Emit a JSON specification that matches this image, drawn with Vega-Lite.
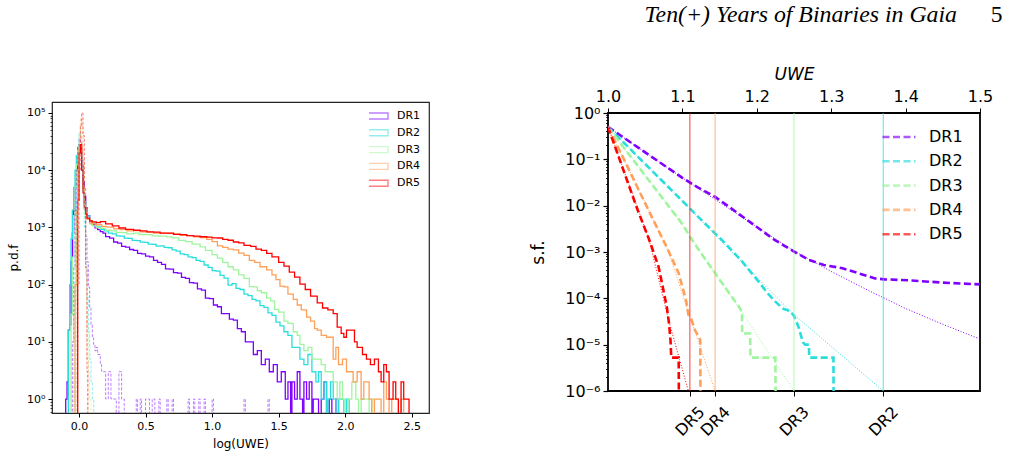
{
  "$schema": "https://vega.github.io/schema/vega-lite/v6.json",
  "background": "white",
  "padding": {"left": 6, "top": 1, "right": 5, "bottom": 5},
  "title": {
    "text": "5",
    "anchor": "end",
    "dx": 9,
    "dy": 24.5,
    "offset": 0,
    "font": "Liberation Serif",
    "fontStyle": "normal",
    "fontWeight": "normal",
    "fontSize": 23.5,
    "color": "black"
  },
  "config": {
    "font": "DejaVu Sans",
    "axis": {
      "grid": false,
      "domain": false,
      "labelFlush": false,
      "tickColor": "black",
      "labelColor": "black",
      "titleColor": "black",
      "titleFontWeight": "normal",
      "labelFont": "DejaVu Sans",
      "titleFont": "DejaVu Sans"
    },
    "legend": {"labelFont": "DejaVu Sans", "labelColor": "black"}
  },
  "spacing": 98,
  "resolve": {"scale": {"color": "independent"}, "legend": {"color": "independent"}},
  "datasets": {
    "pdf_obs": [
      {"release":"DR1","log_uwe":-0.11,"pdf":0.1},{"release":"DR1","log_uwe":-0.1,"pdf":1},{"release":"DR1","log_uwe":-0.09,"pdf":2},{"release":"DR1","log_uwe":-0.08,"pdf":16},{"release":"DR1","log_uwe":-0.07,"pdf":20},{"release":"DR1","log_uwe":-0.06,"pdf":250},{"release":"DR1","log_uwe":-0.05,"pdf":800},{"release":"DR1","log_uwe":-0.04,"pdf":2000},{"release":"DR1","log_uwe":-0.03,"pdf":5000},{"release":"DR1","log_uwe":-0.02,"pdf":10000},{"release":"DR1","log_uwe":-0.01,"pdf":18000},{"release":"DR1","log_uwe":0,"pdf":25000},{"release":"DR1","log_uwe":0.01,"pdf":22000},{"release":"DR1","log_uwe":0.02,"pdf":12000},{"release":"DR1","log_uwe":0.03,"pdf":6300},{"release":"DR1","log_uwe":0.04,"pdf":3500},{"release":"DR1","log_uwe":0.05,"pdf":2200},{"release":"DR1","log_uwe":0.06,"pdf":1600},{"release":"DR1","log_uwe":0.08,"pdf":1250},{"release":"DR1","log_uwe":0.1,"pdf":1120},{"release":"DR1","log_uwe":0.12,"pdf":980},{"release":"DR1","log_uwe":0.14,"pdf":910},{"release":"DR1","log_uwe":0.16,"pdf":840},{"release":"DR1","log_uwe":0.18,"pdf":790},{"release":"DR1","log_uwe":0.2,"pdf":690},{"release":"DR1","log_uwe":0.23,"pdf":650},{"release":"DR1","log_uwe":0.26,"pdf":555},{"release":"DR1","log_uwe":0.29,"pdf":530},{"release":"DR1","log_uwe":0.32,"pdf":465},{"release":"DR1","log_uwe":0.35,"pdf":450},{"release":"DR1","log_uwe":0.38,"pdf":410},{"release":"DR1","log_uwe":0.41,"pdf":395},{"release":"DR1","log_uwe":0.44,"pdf":350},{"release":"DR1","log_uwe":0.47,"pdf":345},{"release":"DR1","log_uwe":0.5,"pdf":315},{"release":"DR1","log_uwe":0.53,"pdf":305},{"release":"DR1","log_uwe":0.56,"pdf":265},{"release":"DR1","log_uwe":0.59,"pdf":245},{"release":"DR1","log_uwe":0.62,"pdf":225},{"release":"DR1","log_uwe":0.65,"pdf":188},{"release":"DR1","log_uwe":0.68,"pdf":186},{"release":"DR1","log_uwe":0.71,"pdf":162},{"release":"DR1","log_uwe":0.74,"pdf":158},{"release":"DR1","log_uwe":0.77,"pdf":134},{"release":"DR1","log_uwe":0.8,"pdf":128},{"release":"DR1","log_uwe":0.83,"pdf":108},{"release":"DR1","log_uwe":0.86,"pdf":106},{"release":"DR1","log_uwe":0.89,"pdf":84},{"release":"DR1","log_uwe":0.92,"pdf":80},{"release":"DR1","log_uwe":0.95,"pdf":58},{"release":"DR1","log_uwe":0.98,"pdf":57},{"release":"DR1","log_uwe":1.01,"pdf":44},{"release":"DR1","log_uwe":1.04,"pdf":41},{"release":"DR1","log_uwe":1.07,"pdf":31},{"release":"DR1","log_uwe":1.1,"pdf":31},{"release":"DR1","log_uwe":1.13,"pdf":25},{"release":"DR1","log_uwe":1.16,"pdf":24},{"release":"DR1","log_uwe":1.19,"pdf":17},{"release":"DR1","log_uwe":1.22,"pdf":15},{"release":"DR1","log_uwe":1.25,"pdf":10},{"release":"DR1","log_uwe":1.28,"pdf":10},{"release":"DR1","log_uwe":1.31,"pdf":6},{"release":"DR1","log_uwe":1.34,"pdf":7},{"release":"DR1","log_uwe":1.37,"pdf":4},{"release":"DR1","log_uwe":1.4,"pdf":5},{"release":"DR1","log_uwe":1.43,"pdf":3},{"release":"DR1","log_uwe":1.46,"pdf":4},{"release":"DR1","log_uwe":1.49,"pdf":2},{"release":"DR1","log_uwe":1.52,"pdf":3},{"release":"DR1","log_uwe":1.55,"pdf":1},{"release":"DR1","log_uwe":1.57,"pdf":2},{"release":"DR1","log_uwe":1.59,"pdf":0.1},{"release":"DR1","log_uwe":1.6,"pdf":2},{"release":"DR1","log_uwe":1.62,"pdf":1},{"release":"DR1","log_uwe":1.64,"pdf":3},{"release":"DR1","log_uwe":1.66,"pdf":1},{"release":"DR1","log_uwe":1.68,"pdf":0.1},{"release":"DR1","log_uwe":1.69,"pdf":2},{"release":"DR1","log_uwe":1.71,"pdf":1},{"release":"DR1","log_uwe":1.73,"pdf":2},{"release":"DR1","log_uwe":1.75,"pdf":0.1},{"release":"DR1","log_uwe":1.76,"pdf":1},{"release":"DR1","log_uwe":1.78,"pdf":1},{"release":"DR1","log_uwe":1.8,"pdf":0.1},{"release":"DR1","log_uwe":1.82,"pdf":1},{"release":"DR1","log_uwe":1.84,"pdf":2},{"release":"DR1","log_uwe":1.86,"pdf":0.1},{"release":"DR1","log_uwe":1.88,"pdf":1},{"release":"DR1","log_uwe":1.9,"pdf":0.1},{"release":"DR1","log_uwe":1.93,"pdf":1},{"release":"DR1","log_uwe":1.95,"pdf":0.1},
      {"release":"DR2","log_uwe":-0.09,"pdf":0.1},{"release":"DR2","log_uwe":-0.08,"pdf":16},{"release":"DR2","log_uwe":-0.07,"pdf":100},{"release":"DR2","log_uwe":-0.06,"pdf":630},{"release":"DR2","log_uwe":-0.05,"pdf":2000},{"release":"DR2","log_uwe":-0.04,"pdf":5000},{"release":"DR2","log_uwe":-0.03,"pdf":10000},{"release":"DR2","log_uwe":-0.02,"pdf":18000},{"release":"DR2","log_uwe":-0.01,"pdf":25000},{"release":"DR2","log_uwe":0,"pdf":28000},{"release":"DR2","log_uwe":0.01,"pdf":20000},{"release":"DR2","log_uwe":0.02,"pdf":10000},{"release":"DR2","log_uwe":0.03,"pdf":5000},{"release":"DR2","log_uwe":0.04,"pdf":2800},{"release":"DR2","log_uwe":0.05,"pdf":2000},{"release":"DR2","log_uwe":0.06,"pdf":1580},{"release":"DR2","log_uwe":0.08,"pdf":1300},{"release":"DR2","log_uwe":0.1,"pdf":1180},{"release":"DR2","log_uwe":0.13,"pdf":1020},{"release":"DR2","log_uwe":0.16,"pdf":920},{"release":"DR2","log_uwe":0.19,"pdf":870},{"release":"DR2","log_uwe":0.22,"pdf":790},{"release":"DR2","log_uwe":0.25,"pdf":770},{"release":"DR2","log_uwe":0.28,"pdf":710},{"release":"DR2","log_uwe":0.31,"pdf":700},{"release":"DR2","log_uwe":0.34,"pdf":650},{"release":"DR2","log_uwe":0.37,"pdf":640},{"release":"DR2","log_uwe":0.4,"pdf":590},{"release":"DR2","log_uwe":0.43,"pdf":585},{"release":"DR2","log_uwe":0.46,"pdf":550},{"release":"DR2","log_uwe":0.49,"pdf":545},{"release":"DR2","log_uwe":0.52,"pdf":510},{"release":"DR2","log_uwe":0.55,"pdf":505},{"release":"DR2","log_uwe":0.58,"pdf":470},{"release":"DR2","log_uwe":0.61,"pdf":475},{"release":"DR2","log_uwe":0.64,"pdf":445},{"release":"DR2","log_uwe":0.67,"pdf":440},{"release":"DR2","log_uwe":0.7,"pdf":405},{"release":"DR2","log_uwe":0.73,"pdf":385},{"release":"DR2","log_uwe":0.76,"pdf":345},{"release":"DR2","log_uwe":0.79,"pdf":335},{"release":"DR2","log_uwe":0.82,"pdf":305},{"release":"DR2","log_uwe":0.85,"pdf":295},{"release":"DR2","log_uwe":0.88,"pdf":265},{"release":"DR2","log_uwe":0.91,"pdf":255},{"release":"DR2","log_uwe":0.94,"pdf":220},{"release":"DR2","log_uwe":0.97,"pdf":200},{"release":"DR2","log_uwe":1.0,"pdf":175},{"release":"DR2","log_uwe":1.03,"pdf":172},{"release":"DR2","log_uwe":1.06,"pdf":145},{"release":"DR2","log_uwe":1.09,"pdf":130},{"release":"DR2","log_uwe":1.12,"pdf":98},{"release":"DR2","log_uwe":1.15,"pdf":104},{"release":"DR2","log_uwe":1.18,"pdf":86},{"release":"DR2","log_uwe":1.21,"pdf":82},{"release":"DR2","log_uwe":1.24,"pdf":68},{"release":"DR2","log_uwe":1.27,"pdf":64},{"release":"DR2","log_uwe":1.3,"pdf":55},{"release":"DR2","log_uwe":1.33,"pdf":52},{"release":"DR2","log_uwe":1.36,"pdf":43},{"release":"DR2","log_uwe":1.39,"pdf":40},{"release":"DR2","log_uwe":1.42,"pdf":32},{"release":"DR2","log_uwe":1.45,"pdf":29},{"release":"DR2","log_uwe":1.48,"pdf":22},{"release":"DR2","log_uwe":1.51,"pdf":19},{"release":"DR2","log_uwe":1.54,"pdf":15},{"release":"DR2","log_uwe":1.57,"pdf":13},{"release":"DR2","log_uwe":1.6,"pdf":8},{"release":"DR2","log_uwe":1.63,"pdf":8},{"release":"DR2","log_uwe":1.66,"pdf":5},{"release":"DR2","log_uwe":1.69,"pdf":4},{"release":"DR2","log_uwe":1.72,"pdf":6},{"release":"DR2","log_uwe":1.75,"pdf":3},{"release":"DR2","log_uwe":1.78,"pdf":2},{"release":"DR2","log_uwe":1.8,"pdf":3},{"release":"DR2","log_uwe":1.82,"pdf":1},{"release":"DR2","log_uwe":1.84,"pdf":2},{"release":"DR2","log_uwe":1.86,"pdf":0.1},{"release":"DR2","log_uwe":1.87,"pdf":1},{"release":"DR2","log_uwe":1.89,"pdf":2},{"release":"DR2","log_uwe":1.91,"pdf":1},{"release":"DR2","log_uwe":1.93,"pdf":0.1},{"release":"DR2","log_uwe":1.95,"pdf":1},{"release":"DR2","log_uwe":1.97,"pdf":1},{"release":"DR2","log_uwe":1.99,"pdf":0.1},{"release":"DR2","log_uwe":2.01,"pdf":1},{"release":"DR2","log_uwe":2.03,"pdf":0.1},
      {"release":"DR3","log_uwe":-0.07,"pdf":0.1},{"release":"DR3","log_uwe":-0.06,"pdf":30},{"release":"DR3","log_uwe":-0.05,"pdf":300},{"release":"DR3","log_uwe":-0.04,"pdf":1600},{"release":"DR3","log_uwe":-0.03,"pdf":5000},{"release":"DR3","log_uwe":-0.02,"pdf":12600},{"release":"DR3","log_uwe":-0.01,"pdf":22000},{"release":"DR3","log_uwe":0,"pdf":28000},{"release":"DR3","log_uwe":0.01,"pdf":20000},{"release":"DR3","log_uwe":0.02,"pdf":10000},{"release":"DR3","log_uwe":0.03,"pdf":4500},{"release":"DR3","log_uwe":0.04,"pdf":2500},{"release":"DR3","log_uwe":0.05,"pdf":1780},{"release":"DR3","log_uwe":0.06,"pdf":1400},{"release":"DR3","log_uwe":0.08,"pdf":1150},{"release":"DR3","log_uwe":0.1,"pdf":1060},{"release":"DR3","log_uwe":0.13,"pdf":990},{"release":"DR3","log_uwe":0.16,"pdf":965},{"release":"DR3","log_uwe":0.2,"pdf":890},{"release":"DR3","log_uwe":0.24,"pdf":870},{"release":"DR3","log_uwe":0.28,"pdf":820},{"release":"DR3","log_uwe":0.32,"pdf":810},{"release":"DR3","log_uwe":0.36,"pdf":770},{"release":"DR3","log_uwe":0.41,"pdf":790},{"release":"DR3","log_uwe":0.45,"pdf":750},{"release":"DR3","log_uwe":0.5,"pdf":745},{"release":"DR3","log_uwe":0.55,"pdf":710},{"release":"DR3","log_uwe":0.6,"pdf":705},{"release":"DR3","log_uwe":0.66,"pdf":680},{"release":"DR3","log_uwe":0.7,"pdf":655},{"release":"DR3","log_uwe":0.75,"pdf":590},{"release":"DR3","log_uwe":0.8,"pdf":565},{"release":"DR3","log_uwe":0.85,"pdf":510},{"release":"DR3","log_uwe":0.91,"pdf":455},{"release":"DR3","log_uwe":0.95,"pdf":395},{"release":"DR3","log_uwe":1.0,"pdf":335},{"release":"DR3","log_uwe":1.04,"pdf":290},{"release":"DR3","log_uwe":1.08,"pdf":245},{"release":"DR3","log_uwe":1.12,"pdf":205},{"release":"DR3","log_uwe":1.16,"pdf":180},{"release":"DR3","log_uwe":1.2,"pdf":148},{"release":"DR3","log_uwe":1.24,"pdf":128},{"release":"DR3","log_uwe":1.28,"pdf":92},{"release":"DR3","log_uwe":1.31,"pdf":91},{"release":"DR3","log_uwe":1.34,"pdf":78},{"release":"DR3","log_uwe":1.37,"pdf":72},{"release":"DR3","log_uwe":1.41,"pdf":58},{"release":"DR3","log_uwe":1.44,"pdf":52},{"release":"DR3","log_uwe":1.47,"pdf":37},{"release":"DR3","log_uwe":1.5,"pdf":33},{"release":"DR3","log_uwe":1.54,"pdf":23},{"release":"DR3","log_uwe":1.57,"pdf":21},{"release":"DR3","log_uwe":1.61,"pdf":15},{"release":"DR3","log_uwe":1.64,"pdf":13},{"release":"DR3","log_uwe":1.66,"pdf":9},{"release":"DR3","log_uwe":1.69,"pdf":7},{"release":"DR3","log_uwe":1.72,"pdf":8},{"release":"DR3","log_uwe":1.75,"pdf":5},{"release":"DR3","log_uwe":1.79,"pdf":5},{"release":"DR3","log_uwe":1.82,"pdf":4},{"release":"DR3","log_uwe":1.85,"pdf":3},{"release":"DR3","log_uwe":1.88,"pdf":3},{"release":"DR3","log_uwe":1.91,"pdf":2},{"release":"DR3","log_uwe":1.94,"pdf":1},{"release":"DR3","log_uwe":1.96,"pdf":2},{"release":"DR3","log_uwe":1.98,"pdf":1},{"release":"DR3","log_uwe":2.0,"pdf":0.1},{"release":"DR3","log_uwe":2.02,"pdf":1},{"release":"DR3","log_uwe":2.05,"pdf":2},{"release":"DR3","log_uwe":2.08,"pdf":1},{"release":"DR3","log_uwe":2.1,"pdf":0.1},{"release":"DR3","log_uwe":2.12,"pdf":1},{"release":"DR3","log_uwe":2.15,"pdf":1},{"release":"DR3","log_uwe":2.18,"pdf":0.1},{"release":"DR3","log_uwe":2.2,"pdf":1},{"release":"DR3","log_uwe":2.22,"pdf":0.1},
      {"release":"DR4","log_uwe":-0.04,"pdf":0.1},{"release":"DR4","log_uwe":-0.03,"pdf":100},{"release":"DR4","log_uwe":-0.02,"pdf":2000},{"release":"DR4","log_uwe":-0.01,"pdf":10000},{"release":"DR4","log_uwe":0,"pdf":25000},{"release":"DR4","log_uwe":0.01,"pdf":26000},{"release":"DR4","log_uwe":0.02,"pdf":12000},{"release":"DR4","log_uwe":0.03,"pdf":5000},{"release":"DR4","log_uwe":0.04,"pdf":2500},{"release":"DR4","log_uwe":0.05,"pdf":1800},{"release":"DR4","log_uwe":0.06,"pdf":1400},{"release":"DR4","log_uwe":0.08,"pdf":1200},{"release":"DR4","log_uwe":0.1,"pdf":1150},{"release":"DR4","log_uwe":0.13,"pdf":1110},{"release":"DR4","log_uwe":0.17,"pdf":1040},{"release":"DR4","log_uwe":0.21,"pdf":1010},{"release":"DR4","log_uwe":0.26,"pdf":940},{"release":"DR4","log_uwe":0.31,"pdf":910},{"release":"DR4","log_uwe":0.36,"pdf":870},{"release":"DR4","log_uwe":0.41,"pdf":875},{"release":"DR4","log_uwe":0.46,"pdf":835},{"release":"DR4","log_uwe":0.51,"pdf":825},{"release":"DR4","log_uwe":0.56,"pdf":795},{"release":"DR4","log_uwe":0.61,"pdf":795},{"release":"DR4","log_uwe":0.66,"pdf":785},{"release":"DR4","log_uwe":0.71,"pdf":765},{"release":"DR4","log_uwe":0.76,"pdf":725},{"release":"DR4","log_uwe":0.81,"pdf":715},{"release":"DR4","log_uwe":0.86,"pdf":685},{"release":"DR4","log_uwe":0.91,"pdf":665},{"release":"DR4","log_uwe":0.96,"pdf":615},{"release":"DR4","log_uwe":1.0,"pdf":565},{"release":"DR4","log_uwe":1.04,"pdf":475},{"release":"DR4","log_uwe":1.08,"pdf":445},{"release":"DR4","log_uwe":1.12,"pdf":415},{"release":"DR4","log_uwe":1.16,"pdf":405},{"release":"DR4","log_uwe":1.2,"pdf":355},{"release":"DR4","log_uwe":1.24,"pdf":325},{"release":"DR4","log_uwe":1.28,"pdf":265},{"release":"DR4","log_uwe":1.32,"pdf":245},{"release":"DR4","log_uwe":1.36,"pdf":205},{"release":"DR4","log_uwe":1.41,"pdf":180},{"release":"DR4","log_uwe":1.45,"pdf":148},{"release":"DR4","log_uwe":1.48,"pdf":122},{"release":"DR4","log_uwe":1.51,"pdf":94},{"release":"DR4","log_uwe":1.54,"pdf":91},{"release":"DR4","log_uwe":1.57,"pdf":68},{"release":"DR4","log_uwe":1.61,"pdf":55},{"release":"DR4","log_uwe":1.64,"pdf":44},{"release":"DR4","log_uwe":1.67,"pdf":36},{"release":"DR4","log_uwe":1.71,"pdf":27},{"release":"DR4","log_uwe":1.74,"pdf":23},{"release":"DR4","log_uwe":1.77,"pdf":17},{"release":"DR4","log_uwe":1.79,"pdf":16},{"release":"DR4","log_uwe":1.82,"pdf":13},{"release":"DR4","log_uwe":1.86,"pdf":12},{"release":"DR4","log_uwe":1.89,"pdf":12},{"release":"DR4","log_uwe":1.91,"pdf":5},{"release":"DR4","log_uwe":1.93,"pdf":8},{"release":"DR4","log_uwe":1.95,"pdf":4},{"release":"DR4","log_uwe":1.98,"pdf":5},{"release":"DR4","log_uwe":2.01,"pdf":3},{"release":"DR4","log_uwe":2.04,"pdf":3},{"release":"DR4","log_uwe":2.06,"pdf":2},{"release":"DR4","log_uwe":2.09,"pdf":3},{"release":"DR4","log_uwe":2.12,"pdf":1},{"release":"DR4","log_uwe":2.14,"pdf":2},{"release":"DR4","log_uwe":2.16,"pdf":2},{"release":"DR4","log_uwe":2.18,"pdf":1},{"release":"DR4","log_uwe":2.2,"pdf":0.1},{"release":"DR4","log_uwe":2.22,"pdf":1},{"release":"DR4","log_uwe":2.25,"pdf":1},{"release":"DR4","log_uwe":2.27,"pdf":0.1},{"release":"DR4","log_uwe":2.29,"pdf":2},{"release":"DR4","log_uwe":2.31,"pdf":1},{"release":"DR4","log_uwe":2.33,"pdf":0.1},{"release":"DR4","log_uwe":2.35,"pdf":1},{"release":"DR4","log_uwe":2.38,"pdf":1},{"release":"DR4","log_uwe":2.4,"pdf":0.1},{"release":"DR4","log_uwe":2.42,"pdf":1},{"release":"DR4","log_uwe":2.44,"pdf":0.1},
      {"release":"DR5","log_uwe":-0.02,"pdf":0.1},{"release":"DR5","log_uwe":-0.01,"pdf":3000},{"release":"DR5","log_uwe":0,"pdf":20000},{"release":"DR5","log_uwe":0.01,"pdf":28000},{"release":"DR5","log_uwe":0.02,"pdf":10000},{"release":"DR5","log_uwe":0.03,"pdf":4000},{"release":"DR5","log_uwe":0.04,"pdf":2200},{"release":"DR5","log_uwe":0.05,"pdf":1700},{"release":"DR5","log_uwe":0.06,"pdf":1450},{"release":"DR5","log_uwe":0.08,"pdf":1300},{"release":"DR5","log_uwe":0.1,"pdf":1250},{"release":"DR5","log_uwe":0.13,"pdf":1210},{"release":"DR5","log_uwe":0.16,"pdf":1260},{"release":"DR5","log_uwe":0.2,"pdf":1150},{"release":"DR5","log_uwe":0.25,"pdf":1060},{"release":"DR5","log_uwe":0.3,"pdf":975},{"release":"DR5","log_uwe":0.35,"pdf":925},{"release":"DR5","log_uwe":0.41,"pdf":890},{"release":"DR5","log_uwe":0.46,"pdf":865},{"release":"DR5","log_uwe":0.51,"pdf":835},{"release":"DR5","log_uwe":0.56,"pdf":825},{"release":"DR5","log_uwe":0.61,"pdf":795},{"release":"DR5","log_uwe":0.66,"pdf":795},{"release":"DR5","log_uwe":0.71,"pdf":755},{"release":"DR5","log_uwe":0.76,"pdf":745},{"release":"DR5","log_uwe":0.81,"pdf":715},{"release":"DR5","log_uwe":0.86,"pdf":705},{"release":"DR5","log_uwe":0.91,"pdf":685},{"release":"DR5","log_uwe":0.96,"pdf":675},{"release":"DR5","log_uwe":1.0,"pdf":655},{"release":"DR5","log_uwe":1.04,"pdf":652},{"release":"DR5","log_uwe":1.08,"pdf":615},{"release":"DR5","log_uwe":1.12,"pdf":595},{"release":"DR5","log_uwe":1.16,"pdf":555},{"release":"DR5","log_uwe":1.2,"pdf":535},{"release":"DR5","log_uwe":1.24,"pdf":485},{"release":"DR5","log_uwe":1.29,"pdf":465},{"release":"DR5","log_uwe":1.33,"pdf":415},{"release":"DR5","log_uwe":1.37,"pdf":395},{"release":"DR5","log_uwe":1.41,"pdf":350},{"release":"DR5","log_uwe":1.45,"pdf":305},{"release":"DR5","log_uwe":1.5,"pdf":245},{"release":"DR5","log_uwe":1.54,"pdf":210},{"release":"DR5","log_uwe":1.58,"pdf":165},{"release":"DR5","log_uwe":1.62,"pdf":135},{"release":"DR5","log_uwe":1.66,"pdf":102},{"release":"DR5","log_uwe":1.7,"pdf":82},{"release":"DR5","log_uwe":1.74,"pdf":63},{"release":"DR5","log_uwe":1.79,"pdf":48},{"release":"DR5","log_uwe":1.83,"pdf":39},{"release":"DR5","log_uwe":1.87,"pdf":36},{"release":"DR5","log_uwe":1.91,"pdf":31},{"release":"DR5","log_uwe":1.94,"pdf":18},{"release":"DR5","log_uwe":1.97,"pdf":14},{"release":"DR5","log_uwe":1.99,"pdf":12},{"release":"DR5","log_uwe":2.01,"pdf":16},{"release":"DR5","log_uwe":2.04,"pdf":16},{"release":"DR5","log_uwe":2.07,"pdf":10},{"release":"DR5","log_uwe":2.09,"pdf":8},{"release":"DR5","log_uwe":2.11,"pdf":8},{"release":"DR5","log_uwe":2.13,"pdf":6},{"release":"DR5","log_uwe":2.16,"pdf":5},{"release":"DR5","log_uwe":2.19,"pdf":4},{"release":"DR5","log_uwe":2.22,"pdf":5},{"release":"DR5","log_uwe":2.25,"pdf":3},{"release":"DR5","log_uwe":2.27,"pdf":2},{"release":"DR5","log_uwe":2.29,"pdf":4},{"release":"DR5","log_uwe":2.31,"pdf":3},{"release":"DR5","log_uwe":2.33,"pdf":1},{"release":"DR5","log_uwe":2.36,"pdf":2},{"release":"DR5","log_uwe":2.38,"pdf":1},{"release":"DR5","log_uwe":2.4,"pdf":0.1},{"release":"DR5","log_uwe":2.42,"pdf":2},{"release":"DR5","log_uwe":2.44,"pdf":1},{"release":"DR5","log_uwe":2.46,"pdf":1},{"release":"DR5","log_uwe":2.48,"pdf":0.1}
    ],
    "pdf_exp": [
      {"release":"DR1","log_uwe":-0.06,"pdf":0.1},{"release":"DR1","log_uwe":-0.05,"pdf":10},{"release":"DR1","log_uwe":-0.04,"pdf":200},{"release":"DR1","log_uwe":-0.03,"pdf":2000},{"release":"DR1","log_uwe":-0.02,"pdf":10000},{"release":"DR1","log_uwe":-0.01,"pdf":25000},{"release":"DR1","log_uwe":0,"pdf":35000},{"release":"DR1","log_uwe":0.01,"pdf":30000},{"release":"DR1","log_uwe":0.02,"pdf":15000},{"release":"DR1","log_uwe":0.03,"pdf":6000},{"release":"DR1","log_uwe":0.04,"pdf":2000},{"release":"DR1","log_uwe":0.05,"pdf":700},{"release":"DR1","log_uwe":0.06,"pdf":250},{"release":"DR1","log_uwe":0.07,"pdf":90},{"release":"DR1","log_uwe":0.08,"pdf":40},{"release":"DR1","log_uwe":0.09,"pdf":20},{"release":"DR1","log_uwe":0.1,"pdf":12},{"release":"DR1","log_uwe":0.11,"pdf":9},{"release":"DR1","log_uwe":0.12,"pdf":7},{"release":"DR1","log_uwe":0.13,"pdf":8},{"release":"DR1","log_uwe":0.14,"pdf":6},{"release":"DR1","log_uwe":0.15,"pdf":6},{"release":"DR1","log_uwe":0.16,"pdf":4},{"release":"DR1","log_uwe":0.17,"pdf":3},{"release":"DR1","log_uwe":0.18,"pdf":3},{"release":"DR1","log_uwe":0.2,"pdf":1},{"release":"DR1","log_uwe":0.22,"pdf":3},{"release":"DR1","log_uwe":0.24,"pdf":1},{"release":"DR1","log_uwe":0.26,"pdf":1},{"release":"DR1","log_uwe":0.28,"pdf":0.1},{"release":"DR1","log_uwe":0.3,"pdf":3},{"release":"DR1","log_uwe":0.32,"pdf":1},{"release":"DR1","log_uwe":0.34,"pdf":0.1},{"release":"DR1","log_uwe":0.43,"pdf":1},{"release":"DR1","log_uwe":0.44,"pdf":0.1},{"release":"DR1","log_uwe":0.46,"pdf":1},{"release":"DR1","log_uwe":0.47,"pdf":0.1},{"release":"DR1","log_uwe":0.5,"pdf":1},{"release":"DR1","log_uwe":0.52,"pdf":1},{"release":"DR1","log_uwe":0.53,"pdf":0.1},{"release":"DR1","log_uwe":0.55,"pdf":1},{"release":"DR1","log_uwe":0.57,"pdf":0.1},{"release":"DR1","log_uwe":0.6,"pdf":1},{"release":"DR1","log_uwe":0.61,"pdf":0.1},{"release":"DR1","log_uwe":0.66,"pdf":1},{"release":"DR1","log_uwe":0.67,"pdf":0.1},{"release":"DR1","log_uwe":0.7,"pdf":1},{"release":"DR1","log_uwe":0.71,"pdf":0.1},{"release":"DR1","log_uwe":0.82,"pdf":1},{"release":"DR1","log_uwe":0.83,"pdf":0.1},{"release":"DR1","log_uwe":0.86,"pdf":1},{"release":"DR1","log_uwe":0.87,"pdf":0.1},{"release":"DR1","log_uwe":0.9,"pdf":1},{"release":"DR1","log_uwe":0.91,"pdf":0.1},{"release":"DR1","log_uwe":0.94,"pdf":1},{"release":"DR1","log_uwe":0.95,"pdf":0.1},{"release":"DR1","log_uwe":1.0,"pdf":1},{"release":"DR1","log_uwe":1.01,"pdf":0.1},{"release":"DR1","log_uwe":1.24,"pdf":1},{"release":"DR1","log_uwe":1.25,"pdf":0.1},{"release":"DR1","log_uwe":1.42,"pdf":1},{"release":"DR1","log_uwe":1.43,"pdf":0.1},
      {"release":"DR2","log_uwe":-0.05,"pdf":0.1},{"release":"DR2","log_uwe":-0.04,"pdf":30},{"release":"DR2","log_uwe":-0.03,"pdf":500},{"release":"DR2","log_uwe":-0.02,"pdf":5000},{"release":"DR2","log_uwe":-0.01,"pdf":20000},{"release":"DR2","log_uwe":0,"pdf":45000},{"release":"DR2","log_uwe":0.01,"pdf":40000},{"release":"DR2","log_uwe":0.02,"pdf":15000},{"release":"DR2","log_uwe":0.03,"pdf":4000},{"release":"DR2","log_uwe":0.04,"pdf":1000},{"release":"DR2","log_uwe":0.05,"pdf":250},{"release":"DR2","log_uwe":0.06,"pdf":60},{"release":"DR2","log_uwe":0.07,"pdf":15},{"release":"DR2","log_uwe":0.08,"pdf":5},{"release":"DR2","log_uwe":0.09,"pdf":2},{"release":"DR2","log_uwe":0.1,"pdf":1},{"release":"DR2","log_uwe":0.11,"pdf":0.1},
      {"release":"DR3","log_uwe":-0.04,"pdf":0.1},{"release":"DR3","log_uwe":-0.03,"pdf":50},{"release":"DR3","log_uwe":-0.02,"pdf":1000},{"release":"DR3","log_uwe":-0.01,"pdf":10000},{"release":"DR3","log_uwe":0,"pdf":40000},{"release":"DR3","log_uwe":0.01,"pdf":60000},{"release":"DR3","log_uwe":0.02,"pdf":30000},{"release":"DR3","log_uwe":0.03,"pdf":8000},{"release":"DR3","log_uwe":0.04,"pdf":1500},{"release":"DR3","log_uwe":0.05,"pdf":200},{"release":"DR3","log_uwe":0.06,"pdf":20},{"release":"DR3","log_uwe":0.07,"pdf":3},{"release":"DR3","log_uwe":0.08,"pdf":1},{"release":"DR3","log_uwe":0.09,"pdf":0.1},
      {"release":"DR4","log_uwe":-0.03,"pdf":0.1},{"release":"DR4","log_uwe":-0.02,"pdf":100},{"release":"DR4","log_uwe":-0.01,"pdf":3000},{"release":"DR4","log_uwe":0,"pdf":30000},{"release":"DR4","log_uwe":0.01,"pdf":80000},{"release":"DR4","log_uwe":0.02,"pdf":60000},{"release":"DR4","log_uwe":0.03,"pdf":15000},{"release":"DR4","log_uwe":0.04,"pdf":2000},{"release":"DR4","log_uwe":0.05,"pdf":150},{"release":"DR4","log_uwe":0.06,"pdf":5},{"release":"DR4","log_uwe":0.07,"pdf":0.1},
      {"release":"DR5","log_uwe":-0.02,"pdf":0.1},{"release":"DR5","log_uwe":-0.01,"pdf":100},{"release":"DR5","log_uwe":0,"pdf":10000},{"release":"DR5","log_uwe":0.01,"pdf":60000},{"release":"DR5","log_uwe":0.02,"pdf":100000},{"release":"DR5","log_uwe":0.03,"pdf":40000},{"release":"DR5","log_uwe":0.04,"pdf":5000},{"release":"DR5","log_uwe":0.05,"pdf":200},{"release":"DR5","log_uwe":0.06,"pdf":3},{"release":"DR5","log_uwe":0.065,"pdf":0.1}
    ],
    "sf_obs": [
      {"release":"DR1","uwe":1.0,"sf":0.501},{"release":"DR1","uwe":1.02,"sf":0.302},{"release":"DR1","uwe":1.05,"sf":0.141},{"release":"DR1","uwe":1.08,"sf":0.0661},{"release":"DR1","uwe":1.1,"sf":0.0398},{"release":"DR1","uwe":1.12,"sf":0.0251},{"release":"DR1","uwe":1.144,"sf":0.0155},{"release":"DR1","uwe":1.17,"sf":0.00776},{"release":"DR1","uwe":1.2,"sf":0.00347},{"release":"DR1","uwe":1.224,"sf":0.00182},{"release":"DR1","uwe":1.251,"sf":0.001},{"release":"DR1","uwe":1.27,"sf":0.000676},{"release":"DR1","uwe":1.29,"sf":0.000525},{"release":"DR1","uwe":1.315,"sf":0.000447},{"release":"DR1","uwe":1.335,"sf":0.000355},{"release":"DR1","uwe":1.359,"sf":0.000269},{"release":"DR1","uwe":1.372,"sf":0.000257},{"release":"DR1","uwe":1.404,"sf":0.000245},{"release":"DR1","uwe":1.449,"sf":0.000219},{"release":"DR1","uwe":1.5,"sf":0.0002},
      {"release":"DR2","uwe":1.0,"sf":0.501},{"release":"DR2","uwe":1.02,"sf":0.24},{"release":"DR2","uwe":1.05,"sf":0.0794},{"release":"DR2","uwe":1.08,"sf":0.0263},{"release":"DR2","uwe":1.1,"sf":0.0126},{"release":"DR2","uwe":1.125,"sf":0.00501},{"release":"DR2","uwe":1.153,"sf":0.00182},{"release":"DR2","uwe":1.18,"sf":0.000631},{"release":"DR2","uwe":1.2025,"sf":0.000229},{"release":"DR2","uwe":1.215,"sf":0.000126},{"release":"DR2","uwe":1.225,"sf":0.0000851},{"release":"DR2","uwe":1.235,"sf":0.0000603},{"release":"DR2","uwe":1.245,"sf":0.0000525},{"release":"DR2","uwe":1.25,"sf":0.0000417},{"release":"DR2","uwe":1.256,"sf":0.0000245},{"release":"DR2","uwe":1.262,"sf":0.0000112},{"release":"DR2","uwe":1.265,"sf":0.00001},{"release":"DR2","uwe":1.27,"sf":0.00001},{"release":"DR2","uwe":1.2705,"sf":0.00000525},{"release":"DR2","uwe":1.303,"sf":0.00000525},{"release":"DR2","uwe":1.3035,"sf":0.0000001},
      {"release":"DR3","uwe":1.0,"sf":0.501},{"release":"DR3","uwe":1.02,"sf":0.19},{"release":"DR3","uwe":1.05,"sf":0.0447},{"release":"DR3","uwe":1.08,"sf":0.0105},{"release":"DR3","uwe":1.1,"sf":0.00398},{"release":"DR3","uwe":1.113,"sf":0.00182},{"release":"DR3","uwe":1.13,"sf":0.000724},{"release":"DR3","uwe":1.144,"sf":0.000347},{"release":"DR3","uwe":1.16,"sf":0.000151},{"release":"DR3","uwe":1.176,"sf":0.0000661},{"release":"DR3","uwe":1.18,"sf":0.0000513},{"release":"DR3","uwe":1.1805,"sf":0.0000174},{"release":"DR3","uwe":1.191,"sf":0.0000174},{"release":"DR3","uwe":1.1915,"sf":0.00000525},{"release":"DR3","uwe":1.225,"sf":0.00000525},{"release":"DR3","uwe":1.2255,"sf":0.0000001},
      {"release":"DR4","uwe":1.0,"sf":0.501},{"release":"DR4","uwe":1.02,"sf":0.112},{"release":"DR4","uwe":1.04,"sf":0.024},{"release":"DR4","uwe":1.06,"sf":0.00525},{"release":"DR4","uwe":1.08,"sf":0.00117},{"release":"DR4","uwe":1.095,"sf":0.000347},{"release":"DR4","uwe":1.105,"sf":0.0000891},{"release":"DR4","uwe":1.108,"sf":0.0000447},{"release":"DR4","uwe":1.112,"sf":0.0000355},{"release":"DR4","uwe":1.117,"sf":0.0000204},{"release":"DR4","uwe":1.121,"sf":0.0000158},{"release":"DR4","uwe":1.124,"sf":0.0000126},{"release":"DR4","uwe":1.1245,"sf":0.0000001},
      {"release":"DR5","uwe":1.0,"sf":0.501},{"release":"DR5","uwe":1.02,"sf":0.0631},{"release":"DR5","uwe":1.04,"sf":0.00794},{"release":"DR5","uwe":1.055,"sf":0.00191},{"release":"DR5","uwe":1.068,"sf":0.000479},{"release":"DR5","uwe":1.079,"sf":0.0000661},{"release":"DR5","uwe":1.082,"sf":0.0000288},{"release":"DR5","uwe":1.084,"sf":0.0000126},{"release":"DR5","uwe":1.085,"sf":0.00000525},{"release":"DR5","uwe":1.095,"sf":0.00000525},{"release":"DR5","uwe":1.0955,"sf":0.0000001}
    ],
    "sf_fit": [
      {"release":"DR1","uwe":1.0,"sf":0.501},{"release":"DR1","uwe":1.1,"sf":0.0398},{"release":"DR1","uwe":1.2,"sf":0.00347},{"release":"DR1","uwe":1.25,"sf":0.00105},{"release":"DR1","uwe":1.3,"sf":0.00038},{"release":"DR1","uwe":1.35,"sf":0.000148},{"release":"DR1","uwe":1.4,"sf":0.0000603},{"release":"DR1","uwe":1.45,"sf":0.0000275},{"release":"DR1","uwe":1.5,"sf":0.0000132},
      {"release":"DR2","uwe":1.0,"sf":0.501},{"release":"DR2","uwe":1.1,"sf":0.0126},{"release":"DR2","uwe":1.2,"sf":0.000282},{"release":"DR2","uwe":1.25,"sf":0.0000447},{"release":"DR2","uwe":1.3,"sf":0.00000912},{"release":"DR2","uwe":1.37,"sf":0.000001},{"release":"DR2","uwe":1.4,"sf":0.000000398},
      {"release":"DR3","uwe":1.0,"sf":0.501},{"release":"DR3","uwe":1.1,"sf":0.00398},{"release":"DR3","uwe":1.144,"sf":0.000347},{"release":"DR3","uwe":1.18,"sf":0.0000501},{"release":"DR3","uwe":1.25,"sf":0.000001},{"release":"DR3","uwe":1.27,"sf":0.00000032},
      {"release":"DR4","uwe":1.0,"sf":0.501},{"release":"DR4","uwe":1.08,"sf":0.00117},{"release":"DR4","uwe":1.108,"sf":0.00005},{"release":"DR4","uwe":1.144,"sf":0.000001},{"release":"DR4","uwe":1.16,"sf":0.0000002},
      {"release":"DR5","uwe":1.0,"sf":0.501},{"release":"DR5","uwe":1.055,"sf":0.00191},{"release":"DR5","uwe":1.082,"sf":0.0000316},{"release":"DR5","uwe":1.108,"sf":0.000001},{"release":"DR5","uwe":1.12,"sf":0.00000016}
    ],
    "cuts": [
      {"release":"DR5","uwe":1.11},{"release":"DR4","uwe":1.144},{"release":"DR3","uwe":1.25},{"release":"DR2","uwe":1.37}
    ]
  },
  "hconcat": [
    {
      "width": 377,
      "height": 311,
      "view": {"stroke": "#222222", "strokeWidth": 1.2},
      "layer": [
        {
          "data": {"name": "pdf_obs"},
          "mark": {"type": "line", "interpolate": "step-after", "strokeWidth": 1.3, "clip": true},
          "encoding": {
            "x": {
              "field": "log_uwe", "type": "quantitative",
              "scale": {"domain": [-0.203, 2.63], "nice": false, "zero": false},
              "axis": {"title": "log(UWE)", "values": [0, 0.5, 1, 1.5, 2, 2.5], "format": ".1f", "labelFontSize": 11, "titleFontSize": 12, "tickSize": 4, "labelPadding": 3, "titlePadding": 7}
            },
            "y": {
              "field": "pdf", "type": "quantitative",
              "scale": {"type": "log", "domain": [0.57, 155000], "nice": false},
              "axis": {
                "title": "p.d.f",
                "titleFontSize": 12,
                "titlePadding": 6,
                "labelFontSize": 11,
                "labelPadding": 3,
                "values": [0.6, 0.7, 0.8, 0.9, 1, 2, 3, 4, 5, 6, 7, 8, 9, 10, 20, 30, 40, 50, 60, 70, 80, 90, 100, 200, 300, 400, 500, 600, 700, 800, 900, 1000, 2000, 3000, 4000, 5000, 6000, 7000, 8000, 9000, 10000, 20000, 30000, 40000, 50000, 60000, 70000, 80000, 90000, 100000],
                "labelExpr": "abs(log(datum.value)/LN10 - round(log(datum.value)/LN10)) < 0.001 ? ['10⁰','10¹','10²','10³','10⁴','10⁵'][round(log(datum.value)/LN10)] : ''",
                "tickSize": {"condition": {"test": "abs(log(datum.value)/LN10 - round(log(datum.value)/LN10)) < 0.001", "value": 4}, "value": 2},
                "tickWidth": {"condition": {"test": "abs(log(datum.value)/LN10 - round(log(datum.value)/LN10)) < 0.001", "value": 1}, "value": 0.7}
              }
            },
            "color": {
              "field": "release", "type": "nominal",
              "scale": {"domain": ["DR1", "DR2", "DR3", "DR4", "DR5"], "range": ["#8000ff", "#2adddd", "#9ef59e", "#ffa05a", "#ff0000"]},
              "legend": {"title": null, "orient": "none", "legendX": 317, "legendY": 8, "padding": 0, "clipHeight": 12, "symbolType": "M-2,-0.5H2V0.5H-2Z", "symbolSize": 144, "symbolStrokeWidth": 1.4, "symbolFillColor": "transparent", "labelFontSize": 11, "labelOffset": 14, "rowPadding": 4.8}
            }
          }
        },
        {
          "data": {"name": "pdf_exp"},
          "mark": {"type": "line", "interpolate": "step-after", "strokeWidth": 1, "strokeDash": [3, 1.6], "opacity": 0.5, "clip": true},
          "encoding": {
            "x": {"field": "log_uwe", "type": "quantitative"},
            "y": {"field": "pdf", "type": "quantitative"},
            "color": {"field": "release", "type": "nominal"}
          }
        }
      ]
    },
    {
      "bounds": "flush",
      "spacing": 10,
      "vconcat": [
        {
          "width": 372,
          "height": 1,
          "data": {"values": []},
          "mark": {"type": "rule"},
          "encoding": {},
          "view": {"stroke": null}
        },
        {
          "width": 372,
          "height": 278,
          "title": {
            "text": "Ten(+) Years of Binaries in Gaia",
            "anchor": "end",
            "frame": "group",
            "dx": -23,
            "offset": 38.7,
            "font": "Liberation Serif",
            "fontStyle": "italic",
            "fontWeight": "normal",
            "fontSize": 23.8,
            "color": "black"
          },
          "view": {"stroke": "black", "strokeWidth": 1.8},
          "resolve": {"axis": {"x": "independent"}},
          "layer": [
            {
              "data": {"name": "sf_obs"},
              "mark": {"type": "line", "strokeWidth": 2.6, "strokeDash": [7, 3.5], "clip": true},
              "encoding": {
                "x": {
                  "field": "uwe", "type": "quantitative",
                  "scale": {"domain": [1.0, 1.5], "nice": false, "zero": false},
                  "axis": {"orient": "top", "title": "UWE", "titleFontStyle": "italic", "titleFontSize": 17, "labelFontSize": 16, "values": [1.0, 1.1, 1.2, 1.3, 1.4, 1.5], "format": ".1f", "tickSize": 5, "labelPadding": 4, "titlePadding": 5}
                },
                "y": {
                  "field": "sf", "type": "quantitative",
                  "scale": {"type": "log", "domain": [0.000001, 1], "nice": false},
                  "axis": {
                    "title": "s.f.",
                    "titleFontSize": 17,
                    "titlePadding": 17,
                    "labelFontSize": 16,
                    "labelPadding": 3,
                    "values": [0.000001, 0.000002, 0.000003, 0.000004, 0.000005, 0.000006, 0.000007, 0.000008, 0.000009, 0.00001, 0.00002, 0.00003, 0.00004, 0.00005, 0.00006, 0.00007, 0.00008, 0.00009, 0.0001, 0.0002, 0.0003, 0.0004, 0.0005, 0.0006, 0.0007, 0.0008, 0.0009, 0.001, 0.002, 0.003, 0.004, 0.005, 0.006, 0.007, 0.008, 0.009, 0.01, 0.02, 0.03, 0.04, 0.05, 0.06, 0.07, 0.08, 0.09, 0.1, 0.2, 0.3, 0.4, 0.5, 0.6, 0.7, 0.8, 0.9, 1],
                    "labelExpr": "abs(log(datum.value)/LN10 - round(log(datum.value)/LN10)) < 0.001 ? ['10⁻⁶','10⁻⁵','10⁻⁴','10⁻³','10⁻²','10⁻¹','10⁰'][round(log(datum.value)/LN10) + 6] : ''",
                    "tickSize": {"condition": {"test": "abs(log(datum.value)/LN10 - round(log(datum.value)/LN10)) < 0.001", "value": 5}, "value": 2.5},
                    "tickWidth": {"condition": {"test": "abs(log(datum.value)/LN10 - round(log(datum.value)/LN10)) < 0.001", "value": 1.2}, "value": 0.8}
                  }
                },
                "color": {
                  "field": "release", "type": "nominal",
                  "scale": {"domain": ["DR1", "DR2", "DR3", "DR4", "DR5"], "range": ["#8000ff", "#2adddd", "#9ef59e", "#ffa05a", "#ff0000"]},
                  "legend": {"title": null, "orient": "none", "legendX": 273, "legendY": 25, "padding": 0, "clipHeight": 20, "symbolType": "M-1,0H1", "symbolSize": 1089, "symbolStrokeWidth": 2.6, "symbolDash": [7, 3.5], "symbolOpacity": 1, "labelFontSize": 16, "labelOffset": 12, "rowPadding": 4.3}
                }
              }
            },
            {
              "data": {"name": "cuts"},
              "mark": {"type": "rule", "strokeWidth": 1.2, "opacity": 0.65},
              "encoding": {
                "x": {
                  "field": "uwe", "type": "quantitative",
                  "axis": {"orient": "bottom", "title": null, "values": [1.11, 1.144, 1.25, 1.37], "labelExpr": "datum.value < 1.12 ? 'DR5' : datum.value < 1.2 ? 'DR4' : datum.value < 1.3 ? 'DR3' : 'DR2'", "labelOverlap": false, "labelAngle": -45, "labelAlign": "center", "labelBaseline": "middle", "labelFontSize": 16, "labelPadding": 25, "tickSize": 5}
                },
                "color": {"field": "release", "type": "nominal"}
              }
            },
            {
              "data": {"name": "sf_fit"},
              "mark": {"type": "line", "strokeWidth": 1, "strokeDash": [1, 1.8], "clip": true},
              "encoding": {
                "x": {"field": "uwe", "type": "quantitative", "axis": null},
                "y": {"field": "sf", "type": "quantitative"},
                "color": {"field": "release", "type": "nominal"}
              }
            }
          ]
        }
      ]
    }
  ]
}
